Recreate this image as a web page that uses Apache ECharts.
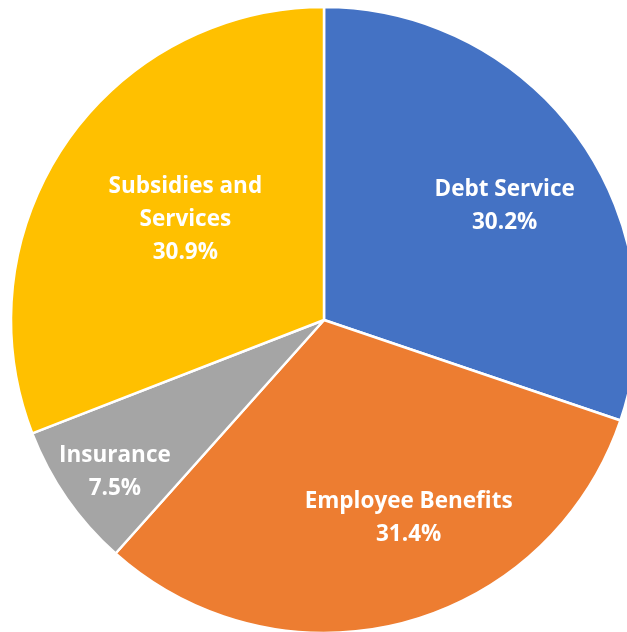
<!DOCTYPE html>
<html>
<head>
<meta charset="utf-8">
<script src="https://cdn.jsdelivr.net/npm/echarts@6/dist/echarts.min.js"></script>
<style>
html,body{margin:0;padding:0;background:#fff;}
#chart{width:627px;height:632px;}
</style>
</head>
<body>
<div id="chart"></div>
<script>
const categories = ['Debt Service', 'Employee Benefits', 'Insurance', 'Subsidies and\nServices'];
const values = [30.2, 31.4, 7.5, 30.9];
const colors = ['#4472C4', '#ED7D31', '#A5A5A5', '#FFC000'];
const labelShift = [[51, -21], [44, 44], [-78, 61], [-7, -10]];

const chart = echarts.init(document.getElementById('chart'), null, {renderer: 'canvas'});
chart.setOption({
  animation: false,
  series: [{
    type: 'pie',
    center: [324, 320],
    radius: [0, 313],
    startAngle: 90,
    clockwise: true,
    data: categories.map((c, i) => ({name: c, value: values[i], itemStyle: {color: colors[i]}})),
    itemStyle: {borderColor: '#ffffff', borderWidth: 2.5},
    label: {
      show: true,
      position: 'inside',
      formatter: p => p.name + '\n' + p.value.toFixed(1) + '%',
      color: '#ffffff',
      fontFamily: 'Open Sans',
      fontWeight: 'bold',
      fontSize: 22.5,
      lineHeight: 33,
      align: 'center'
    },
    labelLine: {show: false},
    labelLayout: p => ({dx: labelShift[p.dataIndex][0], dy: labelShift[p.dataIndex][1]}),
    emphasis: {disabled: true}
  }]
});
</script>
</body>
</html>
